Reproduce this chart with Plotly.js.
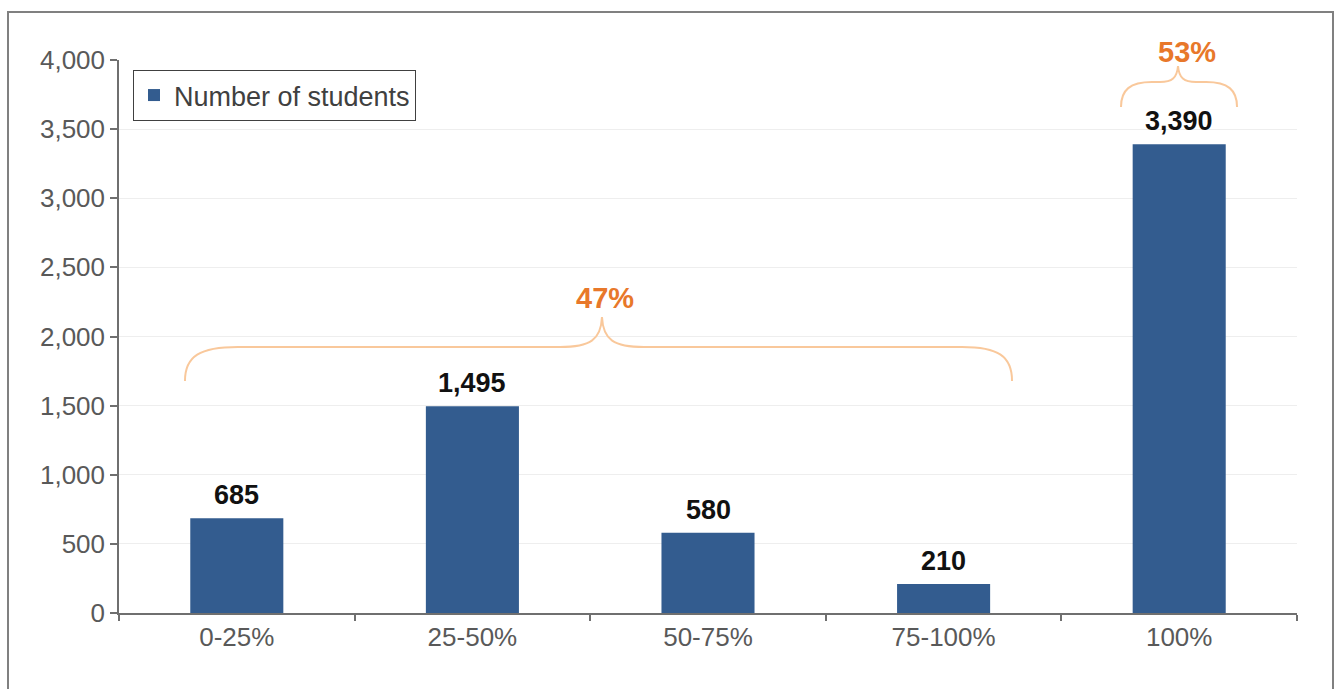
<!DOCTYPE html>
<html>
<head>
<meta charset="utf-8">
<script src="https://cdn.plot.ly/plotly-3.0.1.min.js"></script>
<style>
  html, body { margin: 0; padding: 0; background: #ffffff; }
  #chart { width: 1337px; height: 689px; }
</style>
</head>
<body>
<div id="chart"></div>
<script>
// ---- data ----
const categories = ["0-25%", "25-50%", "50-75%", "75-100%", "100%"];
const students = [685, 1495, 580, 210, 3390];
const seriesName = "Number of students";
const groupLabels = ["47%", "53%"];

// ---- layout constants ----
const W = 1337, H = 689;
const M = { l: 119, r: 40, t: 60, b: 76 };
const PW = W - M.l - M.r, PH = H - M.t - M.b;
const fx = px => (px - M.l) / PW;          // pixel -> paper x
const fy = py => (H - M.b - py) / PH;      // pixel -> paper y
const pt = (x, y) => fx(x).toFixed(4) + "," + fy(y).toFixed(4);

const braceColor = "#f9c89b";
const pctColor = "#e8782a";
const font = "Liberation Sans, Arial, sans-serif";

// brace paths (decorative annotations, in paper coords)
const brace47 = "M" + pt(185, 381) +
  " C" + pt(185, 356) + " " + pt(200, 347) + " " + pt(238, 347) +
  " L" + pt(560, 347) +
  " C" + pt(590, 347) + " " + pt(601, 340) + " " + pt(602, 317) +
  " C" + pt(603, 340) + " " + pt(614, 347) + " " + pt(644, 347) +
  " L" + pt(962, 347) +
  " C" + pt(998, 347) + " " + pt(1012, 356) + " " + pt(1012, 381);

const brace53 = "M" + pt(1121, 107) +
  " C" + pt(1121, 90) + " " + pt(1130, 82) + " " + pt(1152, 82) +
  " L" + pt(1160, 82) +
  " C" + pt(1172, 82) + " " + pt(1177, 78) + " " + pt(1178, 66) +
  " C" + pt(1179, 78) + " " + pt(1184, 82) + " " + pt(1196, 82) +
  " L" + pt(1206, 82) +
  " C" + pt(1228, 82) + " " + pt(1237, 90) + " " + pt(1237, 107);

const trace = {
  type: "bar",
  x: categories,
  y: students,
  name: seriesName,
  marker: { color: "#335c8f", line: { width: 0 } },
  showlegend: true,
  hoverinfo: "x+y"
};

const valueAnnotations = categories.map((c, i) => ({
  x: c, y: students[i], xref: "x", yref: "y",
  text: students[i].toLocaleString("en-US"),
  showarrow: false, yanchor: "bottom", yshift: 6,
  font: { family: font, size: 27, color: "#111111", weight: "bold" }
}));

const pctAnnotations = [
  { x: fx(605), y: fy(298), text: groupLabels[0] },
  { x: fx(1187), y: fy(52), text: groupLabels[1] }
].map(a => Object.assign(a, {
  xref: "paper", yref: "paper", showarrow: false,
  xanchor: "center", yanchor: "middle",
  font: { family: font, size: 29, color: pctColor, weight: "bold" }
}));

const layout = {
  width: W, height: H,
  margin: M,
  paper_bgcolor: "#ffffff",
  plot_bgcolor: "#ffffff",
  font: { family: font, size: 26, color: "#595959" },
  bargap: 0.605,
  showlegend: true,
  legend: {
    x: fx(133), y: fy(70), xanchor: "left", yanchor: "top",
    bgcolor: "#ffffff", bordercolor: "#404040", borderwidth: 1,
    font: { family: font, size: 27, color: "#404040" },
    itemclick: false
  },
  xaxis: {
    type: "category",
    tickson: "boundaries",
    ticks: "outside", ticklen: 6, tickcolor: "#6f6f6f", tickwidth: 1.5,
    showline: true, linecolor: "#6f6f6f", linewidth: 1.5,
    showgrid: false, zeroline: false,
    tickfont: { family: font, size: 26, color: "#595959" }
  },
  yaxis: {
    range: [0, 4000], dtick: 500, tickformat: ",d",
    ticks: "outside", ticklen: 7, tickcolor: "#6f6f6f", tickwidth: 1.5,
    showline: true, linecolor: "#6f6f6f", linewidth: 1.5,
    showgrid: true, gridcolor: "#eeeeee", gridwidth: 1,
    zeroline: false,
    tickfont: { family: font, size: 26, color: "#595959" }
  },
  shapes: [
    { type: "rect", xref: "paper", yref: "paper",
      x0: fx(8), x1: fx(1333), y0: fy(720), y1: fy(12),
      line: { color: "#808080", width: 2 }, fillcolor: "rgba(0,0,0,0)", layer: "below" },
    { type: "path", xref: "paper", yref: "paper", path: brace47,
      line: { color: braceColor, width: 2 } },
    { type: "path", xref: "paper", yref: "paper", path: brace53,
      line: { color: braceColor, width: 2 } }
  ],
  annotations: valueAnnotations.concat(pctAnnotations)
};

Plotly.newPlot("chart", [trace], layout, { displayModeBar: false, staticPlot: false });
</script>
</body>
</html>
